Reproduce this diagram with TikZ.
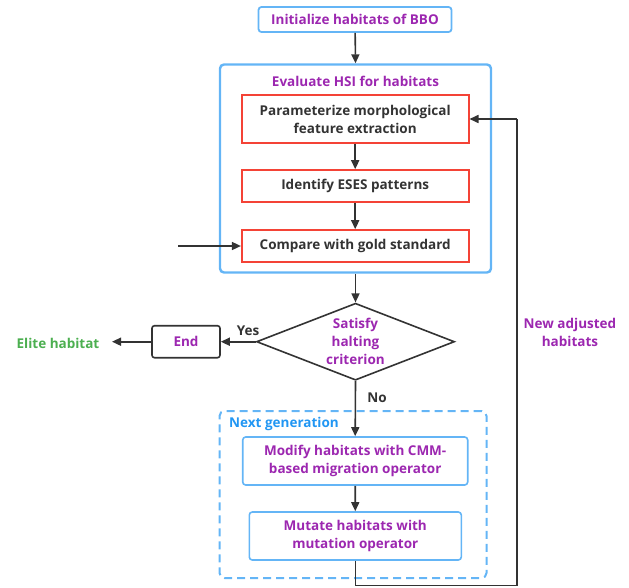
\documentclass[tikz,border=0pt]{standalone}
\usepackage{fontspec}
\setmainfont{Open Sans}
\usetikzlibrary{arrows.meta,shapes.geometric}
\definecolor{purp}{HTML}{9C27B0}
\definecolor{dgray}{HTML}{333333}
\definecolor{redb}{HTML}{F44336}
\definecolor{lblue}{HTML}{64B5F6}
\definecolor{nblue}{HTML}{2196F3}
\definecolor{grn}{HTML}{4CAF50}
\tikzset{
  base/.style={font=\fontsize{13.5}{18}\selectfont\bfseries, align=center, inner sep=0pt},
  bluebox/.style={base, draw=lblue, line width=1.8pt, rounded corners=3pt, text=purp},
  redbox/.style={base, draw=redb, line width=1.6pt, text=dgray},
  conn/.style={draw=dgray, line width=1.6pt, -{Triangle[length=9pt,width=8pt]}},
  plain/.style={draw=dgray, line width=1.6pt},
  lbl/.style={base, text=dgray},
}
\begin{document}
\begin{tikzpicture}[x=1pt,y=-1pt]
\useasboundingbox (0,0) rectangle (629,587);
% containers
\node[draw=lblue, line width=2.4pt, rounded corners=4pt, minimum width=271pt, minimum height=208pt, inner sep=0pt] (eval) at (355.5,168.5) {};
\node[draw=lblue, line width=2pt, dashed, dash pattern=on 8pt off 5pt, rounded corners=5pt, minimum width=267pt, minimum height=167pt, inner sep=0pt] (nextg) at (353,494.5) {};
% nodes
\node[bluebox, minimum width=193pt, minimum height=25pt] (init) at (355,19.5) {Initialize habitats of BBO};
\node[base, text=purp] (evtitle) at (355.5,81) {Evaluate HSI for habitats};
\node[redbox, minimum width=227pt, minimum height=48pt] (param) at (355.2,119) {Parameterize morphological\\feature extraction};
\node[redbox, minimum width=227pt, minimum height=32pt] (ident) at (355.2,186) {Identify ESES patterns};
\node[redbox, minimum width=227pt, minimum height=32pt] (comp) at (355.2,246) {Compare with gold standard};
\coordinate (cin) at (178,246);
\node[draw=dgray, line width=1.6pt, shape=diamond, shape aspect=2.57, minimum width=198pt, minimum height=77pt, inner sep=0pt] (dia) at (355.5,341.7) {};
\node[base, text=purp] at (dia.center) {Satisfy\\halting\\criterion};
\node[base, draw=dgray, line width=1.6pt, rounded corners=2.5pt, minimum width=68pt, minimum height=32pt, text=purp] (endn) at (186,341.7) {End};
\node[base, text=grn] (elite) at (58,343.5) {Elite habitat};
\coordinate (elitein) at (112,341.7);
\node[lbl] (yes) at (248,331) {Yes};
\node[lbl] (no) at (377,398) {No};
\node[base, text=purp] (newadj) at (570,332) {New adjusted\\habitats};
\node[base, text=nblue, anchor=west] (ngtitle) at (229,424) {Next generation};
\node[bluebox, line width=1.6pt, minimum width=225pt, minimum height=48pt] (modify) at (355.2,461) {Modify habitats with CMM-\\based migration operator};
\node[bluebox, line width=1.6pt, minimum width=212pt, minimum height=48pt] (mutate) at (355.3,536) {Mutate habitats with\\mutation operator};
\coordinate (lb) at (355.3,585.5);
\coordinate (rb) at (517,585.5);
\coordinate (rt) at (517,119);
% connectors
\draw[conn] (init) -- (eval.north);
\draw[conn] (param) -- (ident);
\draw[conn] (ident) -- (comp);
\draw[conn] (cin) -- (comp.west);
\draw[conn] (eval.south -| dia.north) -- (dia.north);
\draw[conn] (dia.west) -- (endn.east);
\draw[conn] (endn.west) -- (elitein);
\draw[conn] (dia.south) -- (modify.north);
\draw[conn] (modify) -- (mutate);
\draw[plain] (mutate.south) -- (lb) -- (rb) -- (rt);
\draw[conn] (rt) -- (param.east);
\end{tikzpicture}
\end{document}
